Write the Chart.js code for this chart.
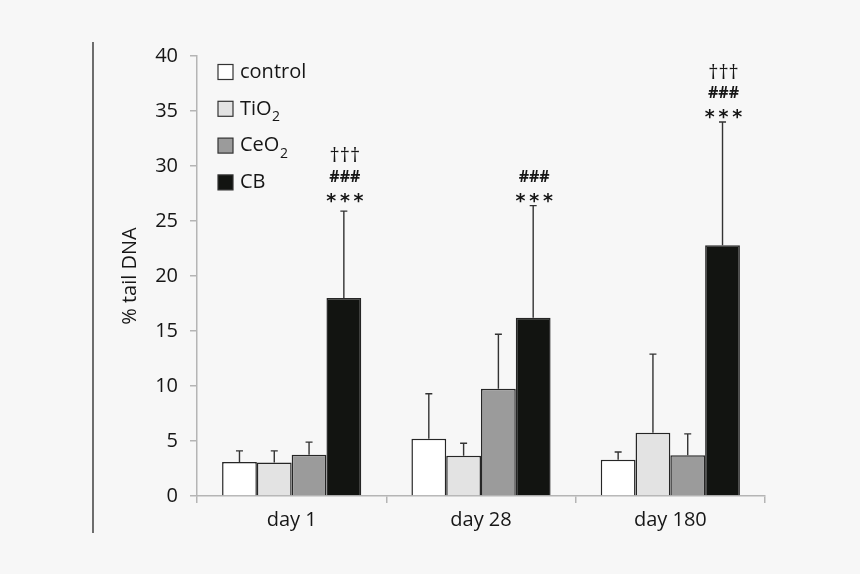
<!DOCTYPE html>
<html>
<head>
<meta charset="utf-8">
<script src="https://cdn.jsdelivr.net/npm/chart.js@4"></script>
<style>
  html, body { margin: 0; padding: 0; background: #f7f7f7; }
  #wrap { width: 860px; height: 574px; }
</style>
</head>
<body>
<div id="wrap"><canvas id="tailChart"></canvas></div>
<script>
const days = ['day 1', 'day 28', 'day 180'];

const controlMean = [3.1, 5.2, 3.3];
const controlSd = [1.0, 4.1, 0.7];
const tio2Mean = [3.05, 3.65, 5.75];
const tio2Sd = [1.05, 1.15, 7.15];
const ceo2Mean = [3.75, 9.75, 3.7];
const ceo2Sd = [1.15, 4.95, 1.95];
const cbMean = [18.0, 16.2, 22.8];
const cbSd = [7.9, 10.2, 11.2];

const cbMarks = [['***', '###', '\u2020\u2020\u2020'], ['***', '###'], ['***', '###', '\u2020\u2020\u2020']];

const yTicks = [0, 5, 10, 15, 20, 25, 30, 35, 40];

const groups = [
    { label: 'control', sub: '', mean: controlMean, sd: controlSd, fill: '#ffffff' },
    { label: 'TiO', sub: '2', mean: tio2Mean, sd: tio2Sd, fill: '#e3e3e3' },
    { label: 'CeO', sub: '2', mean: ceo2Mean, sd: ceo2Sd, fill: '#9b9b9b' },
    { label: 'CB', sub: '', mean: cbMean, sd: cbSd, fill: '#121411' }
];

const FONT = '"Open Sans", "DejaVu Sans", sans-serif';
const INK = '#161616';
const AXIS = '#b5b5b5';

// error bars, significance marks, legend and the left rule
const extras = {
    id: 'extras',
    afterDatasetsDraw(chart) {
        const ctx = chart.ctx;
        const y = chart.scales.y;
        const area = chart.chartArea;
        ctx.save();

        ctx.strokeStyle = '#333';
        ctx.lineWidth = 1.4;
        groups.forEach((g, i) => {
            chart.getDatasetMeta(i).data.forEach((bar, j) => {
                const top = y.getPixelForValue(g.mean[j] + g.sd[j]);
                ctx.beginPath();
                ctx.moveTo(bar.x, bar.y);
                ctx.lineTo(bar.x, top);
                ctx.moveTo(bar.x - 3.5, top);
                ctx.lineTo(bar.x + 3.5, top);
                ctx.stroke();
            });
        });

        // marks above CB bars
        ctx.fillStyle = INK;
        ctx.textAlign = 'center';
        ctx.textBaseline = 'middle';
        const cbMeta = chart.getDatasetMeta(3);
        cbMarks.forEach((marks, j) => {
            const bar = cbMeta.data[j];
            const top = y.getPixelForValue(Math.max(cbMean[j] + cbSd[j], 26.4));
            marks.forEach((m, k) => {
                if (m === '***') {
                    ctx.font = 'bold 19px "DejaVu Sans", sans-serif';
                    ctx.fillText('*\u2009*\u2009*', bar.x + 1, top - 4 - k * 20);
                } else if (m === '###') {
                    ctx.font = 'bold 16px ' + FONT;
                    ctx.fillText(m, bar.x + 1, top - 8 - k * 20.5);
                } else {
                    ctx.font = '20px ' + FONT;
                    ctx.fillText(m, bar.x + 1, top - 8 - k * 20.5);
                }
            });
        });

        // legend
        ctx.textAlign = 'left';
        ctx.textBaseline = 'middle';
        groups.forEach((g, i) => {
            const bx = area.left + 21;
            const cy = 72 + i * 36.8;
            ctx.fillStyle = g.fill;
            ctx.fillRect(bx, cy - 7.5, 15, 15);
            ctx.strokeStyle = '#333';
            ctx.lineWidth = 1.2;
            ctx.strokeRect(bx, cy - 7.5, 15, 15);
            ctx.fillStyle = INK;
            ctx.font = '20px ' + FONT;
            ctx.fillText(g.label, bx + 22, cy);
            if (g.sub) {
                const w = ctx.measureText(g.label).width;
                ctx.font = '14px ' + FONT;
                ctx.fillText(g.sub, bx + 22 + w + 0.5, cy + 8);
            }
        });

        ctx.strokeStyle = '#111';
        ctx.lineWidth = 1.2;
        ctx.beginPath();
        ctx.moveTo(93, 42);
        ctx.lineTo(93, 533);
        ctx.stroke();

        ctx.restore();
    }
};

new Chart(document.getElementById('tailChart').getContext('2d'), {
    type: 'bar',
    data: {
        labels: days,
        datasets: groups.map(g => ({
            label: g.label + g.sub,
            data: g.mean,
            backgroundColor: g.fill,
            borderColor: '#262626',
            borderWidth: 1.5,
            borderSkipped: 'bottom',
            categoryPercentage: 0.735,
            barPercentage: 1.0
        }))
    },
    options: {
        responsive: true,
        maintainAspectRatio: false,
        animation: false,
        layout: { padding: { left: 118, top: 56, right: 95, bottom: 0 } },
        scales: {
            x: {
                offset: true,
                grid: { offset: true, drawOnChartArea: false, tickLength: 7, color: AXIS, lineWidth: 1.5 },
                border: { color: AXIS, width: 1.5 },
                ticks: { color: INK, font: { family: FONT, size: 20 }, padding: 5 },
                afterFit(scale) { scale.height = 78; }
            },
            y: {
                min: 0,
                max: 40,
                afterBuildTicks(scale) { scale.ticks = yTicks.map(v => ({ value: v })); },
                grid: { drawOnChartArea: false, tickLength: 7, color: AXIS, lineWidth: 1.5 },
                border: { color: AXIS, width: 1.5 },
                ticks: { color: INK, font: { family: FONT, size: 20 }, padding: 12 },
                title: { display: true, text: '% tail DNA', color: INK, font: { family: FONT, size: 20 }, padding: 0 },
                afterFit(scale) { scale.width = 79; }
            }
        },
        plugins: {
            legend: { display: false },
            tooltip: { enabled: false }
        }
    },
    plugins: [extras]
});
</script>
</body>
</html>
